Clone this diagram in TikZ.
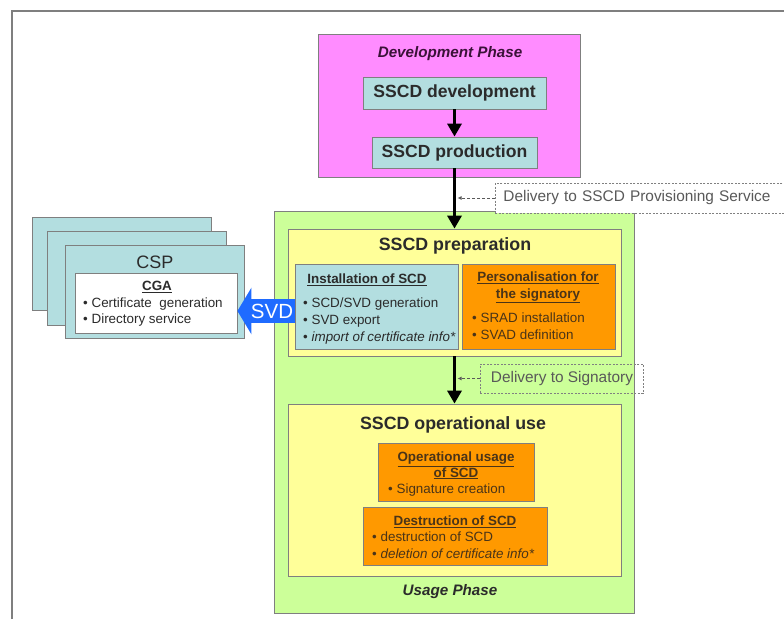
\documentclass[tikz,border=0pt]{standalone}
\usepackage{fontspec}
\setmainfont{Liberation Sans}
\definecolor{devpink}{HTML}{FF8CFF}
\definecolor{boxblue}{HTML}{B3DEE0}
\definecolor{usegreen}{HTML}{CCFF99}
\definecolor{stageyellow}{HTML}{FFFF99}
\definecolor{taskorange}{HTML}{FF9900}
\definecolor{svdblue}{HTML}{1F6BFF}
\definecolor{edgegray}{HTML}{7F7F7F}
\definecolor{txtgray}{HTML}{2B2B2B}
\definecolor{tasktext}{HTML}{4A3418}
\definecolor{phasetext}{HTML}{3A1238}
\usetikzlibrary{arrows.meta,positioning,calc}

\begin{document}
\begin{tikzpicture}[x=1pt,y=-1pt,
  phasebox/.style={draw=edgegray,line width=0.9pt},
  stagebox/.style={draw=edgegray,line width=0.8pt,fill=stageyellow},
  stepbox/.style={draw=edgegray,line width=0.8pt,fill=boxblue,text=txtgray,
    font=\fontsize{17.6}{20}\selectfont\bfseries},
  taskbox/.style={draw=edgegray,line width=0.8pt},
  phasetitle/.style={font=\fontsize{15.2}{17}\selectfont\bfseries\itshape,inner sep=0pt},
  stagetitle/.style={font=\fontsize{17.8}{20}\selectfont\bfseries,text=txtgray,inner sep=0pt},
  boxtitle/.style={font=\fontsize{13.4}{15.5}\selectfont\bfseries,align=center,inner sep=0pt},
  items/.style={font=\fontsize{13.4}{17}\selectfont,align=left,inner sep=0pt,anchor=north west},
  flow/.style={line width=3.5pt,-{Triangle[length=13pt,width=14pt]}},
  svdflow/.style={line width=24pt,svdblue,-{Triangle[length=14pt,width=46pt]}},
  notebox/.style={draw=gray,dash pattern=on 2pt off 1.5pt,line width=0.9pt,text=black!65,
    minimum height=30pt,inner xsep=8pt,anchor=west,font=\fontsize{15.4}{17}\selectfont},
  tap/.style={draw=gray!70!black,dash pattern=on 3pt off 2pt,line width=1pt,
    -{Latex[length=4pt,width=4pt]}}
]
  \useasboundingbox (0,0) rectangle (784,619);
  \draw[edgegray,line width=1.2pt] (12,619) -- (12,11) -- (784,11);

  % development phase
  \node[phasebox,fill=devpink,minimum width=262,minimum height=143] (devphase) at (449,105.5) {};
  \node[phasetitle,text=phasetext] (devtitle) at (450,54) {Development Phase};
  \node[stepbox,minimum width=183,minimum height=32] (sscddev) at (454.5,93) {SSCD development};
  \node[stepbox,minimum width=165,minimum height=31] (sscdprod) at (454.5,152.5) {SSCD production};

  % usage phase
  \node[phasebox,fill=usegreen,minimum width=360,minimum height=402] (usage) at (454,412) {};
  \node[phasetitle,text=txtgray] (usagetitle) at (450,592) {Usage Phase};

  \node[stagebox,minimum width=333,minimum height=127] (prep) at (454.5,292.5) {};
  \node[stagetitle] (preptitle) at (455,246) {SSCD preparation};
  \node[stagebox,minimum width=333,minimum height=172] (opuse) at (454.5,490) {};
  \node[stagetitle] (optitle) at (453,425) {SSCD operational use};

  % certification service provider
  \node[taskbox,fill=boxblue,minimum width=179,minimum height=93] (cspback2) at (121.5,263.5) {};
  \node[taskbox,fill=boxblue,minimum width=179,minimum height=94] (cspback1) at (136.5,278) {};
  \node[taskbox,fill=boxblue,minimum width=179,minimum height=93] (csp) at (154.5,291.5) {};
  \node[font=\fontsize{18}{20}\selectfont,text=txtgray,inner sep=0pt] (csptitle) at (155,262) {CSP};
  \node[taskbox,fill=white,minimum width=162,minimum height=60] (cga) at (156,303) {};
  \node[boxtitle,text=txtgray] (cgatitle) at (157,287) {\underline{CGA}};
  \node[items,text=txtgray,font=\fontsize{13.4}{15.5}\selectfont] (cgaitems) at (83,298)
    {\textbullet\ Certificate\ \ generation\\\textbullet\ Directory service};

  % SVD handed over to the CSP
  \coordinate (svdtail) at (300,311);
  \draw[svdflow] (svdtail) -- (svdtail -| cga.east);
  \node[text=white,font=\fontsize{20.5}{22}\selectfont,inner sep=0pt] (svdtext) at (272,311) {SVD};

  % preparation tasks
  \node[taskbox,fill=boxblue,minimum width=163,minimum height=85] (install) at (376.5,306.5) {};
  \node[boxtitle,text=txtgray] (installtitle) at (367,280) {\underline{Installation of SCD}};
  \node[items,text=txtgray] (installitems) at (303,298)
    {\textbullet\ SCD/SVD generation\\\textbullet\ SVD export\\\textbullet\ \textit{import of certificate info*}};

  \node[taskbox,fill=taskorange,minimum width=153,minimum height=85] (perso) at (538.5,306.5) {};
  \node[boxtitle,text=tasktext,font=\fontsize{13.4}{17}\selectfont\bfseries] (persotitle) at (538,287.5)
    {\underline{Personalisation for}\\\underline{the signatory}};
  \node[items,text=tasktext] (persoitems) at (472,313)
    {\textbullet\ SRAD installation\\\textbullet\ SVAD definition};

  % operational tasks
  \node[taskbox,fill=taskorange,minimum width=156,minimum height=58] (opusage) at (456,472) {};
  \node[boxtitle,text=tasktext] (opusagetitle) at (456,465.5)
    {\underline{Operational usage}\\\underline{of SCD}};
  \node[items,text=tasktext] (opusageitems) at (388,484) {\textbullet\ Signature creation};

  \node[taskbox,fill=taskorange,minimum width=184,minimum height=58] (destr) at (455,536) {};
  \node[boxtitle,text=tasktext] (destrtitle) at (455,522) {\underline{Destruction of SCD}};
  \node[items,text=tasktext] (destritems) at (372,532)
    {\textbullet\ destruction of SCD\\\textbullet\ \textit{deletion of certificate info*}};

  % flow between the stages
  \draw[flow] (sscddev.south) -- (sscdprod.north);
  \draw[flow] (sscdprod.south) -- (prep.north);
  \draw[flow] (prep.south) -- (opuse.north);

  % deliveries
  \node[notebox,fill=white,minimum width=300,text width=284pt,align=left] (provdelivery) at (495,198)
    {Delivery to SSCD Provisioning Service};
  \node[notebox,minimum width=163,minimum height=29,inner xsep=6pt] (signdelivery) at (480,378.5)
    {Delivery to Signatory};
  \coordinate (provtap) at ($(sscdprod.south |- provdelivery.west)+(3,0)$);
  \coordinate (signtap) at ($(prep.south |- signdelivery.west)+(3,0)$);
  \draw[tap] (provdelivery.west) -- (provtap);
  \draw[tap] (signdelivery.west) -- (signtap);
\end{tikzpicture}
\end{document}
